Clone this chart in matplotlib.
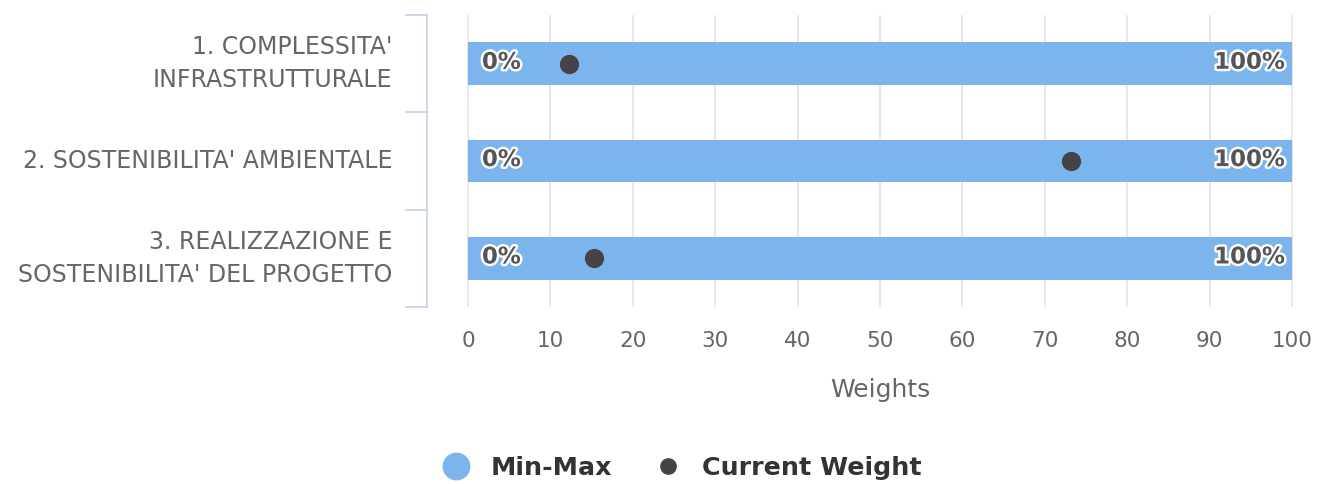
import matplotlib
matplotlib.use("Agg")
import matplotlib.pyplot as plt
import matplotlib.patheffects as pe
from matplotlib.lines import Line2D

categories = ["1. COMPLESSITA'\nINFRASTRUTTURALE",
              "2. SOSTENIBILITA' AMBIENTALE",
              "3. REALIZZAZIONE E\nSOSTENIBILITA' DEL PROGETTO"]
range_low = [0, 0, 0]
range_high = [100, 100, 100]
current_weight = [12.2, 73.2, 15.3]
xticks = [0, 10, 20, 30, 40, 50, 60, 70, 80, 90, 100]

W, H = 1326, 484
fig = plt.figure(figsize=(W / 100, H / 100), dpi=100)
XMIN, XMAX = -4.98, 100.6
ax = fig.add_axes([427 / W, 1 - 307 / H, (1297 - 427) / W, (307 - 15) / H])

bar_color = "#7cb5ec"
dot_color = "#434348"
text_gray = "#666666"

ypos = list(range(len(categories)))
ax.barh(ypos, [h - l for h, l in zip(range_high, range_low)], left=range_low,
        height=0.44, color=bar_color, zorder=2)
ax.scatter(current_weight, ypos, s=165, color=dot_color, zorder=3)

outline = [pe.withStroke(linewidth=3.5, foreground="white")]
for y, lo, hi in zip(ypos, range_low, range_high):
    ax.annotate(f"{lo}%", (lo, y), xytext=(10, 1), textcoords="offset points",
                ha="left", va="center", fontsize=16.5, fontweight="bold",
                color="#555555", path_effects=outline, zorder=4)
    ax.annotate(f"{hi}%", (hi, y), xytext=(-5, 1), textcoords="offset points",
                ha="right", va="center", fontsize=16.5, fontweight="bold",
                color="#555555", path_effects=outline, zorder=4)

ax.set_xlim(XMIN, XMAX)
ax.set_ylim(len(categories) - 0.5, -0.5)
ax.set_xticks(xticks)
ax.set_xticklabels([str(t) for t in xticks], fontsize=15.5, color=text_gray)
ax.tick_params(axis="x", length=0, pad=17)
ax.grid(axis="x", color="#e6e6e6", linewidth=1.3, zorder=0)
ax.set_axisbelow(True)

# category labels
ax.set_yticks(ypos)
ax.set_yticklabels(categories, fontsize=17, color=text_gray, ha="right",
                   va="center", linespacing=1.45)
ax.tick_params(axis="y", length=0, pad=25)
for lbl in ax.get_yticklabels():
    lbl.set_y(lbl.get_position()[1])
# band ticks
ax.set_yticks([-0.5, 0.5, 1.5, 2.5], minor=True)
ax.tick_params(axis="y", which="minor", length=16, width=1.3, color="#ccd6eb",
               direction="out")

for s in ["top", "right", "bottom"]:
    ax.spines[s].set_visible(False)
ax.spines["left"].set_color("#ccd6eb")
ax.spines["left"].set_linewidth(1.3)

ax.set_xlabel("Weights", fontsize=18, color=text_gray)
ax.xaxis.set_label_coords((50 - XMIN) / (XMAX - XMIN), 1 - (390 - 15) / (307 - 15))
ax.xaxis.label.set_va("center")

handles = [Line2D([0], [0], marker="o", linestyle="none", markersize=19,
                  markerfacecolor=bar_color, markeredgecolor=bar_color, label="Min-Max"),
           Line2D([0], [0], marker="o", linestyle="none", markersize=11,
                  markerfacecolor=dot_color, markeredgecolor=dot_color, label="Current Weight")]
leg = fig.legend(handles=handles, loc="center", bbox_to_anchor=(676 / W, 1 - 468 / H),
                 ncol=2, frameon=False, handletextpad=0.35, columnspacing=1.2,
                 prop={"weight": "bold", "size": 18.3})
for t in leg.get_texts():
    t.set_color("#333333")

fig.savefig("out.png", dpi=100)
